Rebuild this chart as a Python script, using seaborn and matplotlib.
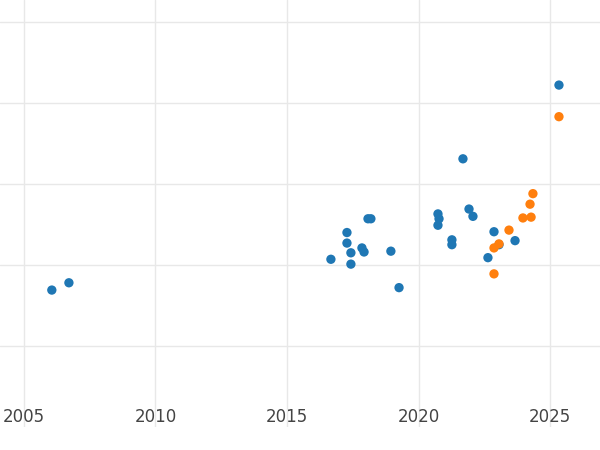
import matplotlib
matplotlib.use("Agg")
import matplotlib.pyplot as plt
import seaborn as sns

blue_x = [2006.06, 2006.71, 2016.67, 2017.28, 2017.28, 2017.43, 2017.43, 2017.85, 2017.93,
          2018.08, 2018.19, 2018.95, 2019.26, 2020.74, 2020.74, 2020.78, 2021.27, 2021.27,
          2021.69, 2021.92, 2022.07, 2022.64, 2022.87, 2023.06, 2023.67, 2025.34]
blue_y = [1.69, 1.78, 2.07, 2.40, 2.27, 2.15, 2.01, 2.21, 2.16,
          2.57, 2.57, 2.17, 1.72, 2.63, 2.49, 2.57, 2.31, 2.25,
          3.31, 2.69, 2.60, 2.09, 2.41, 2.25, 2.30, 4.22]
orange_x = [2022.87, 2022.87, 2023.06, 2023.44, 2023.97, 2024.24, 2024.28, 2024.35, 2025.34]
orange_y = [1.89, 2.21, 2.26, 2.43, 2.58, 2.75, 2.59, 2.88, 3.83]

sns.set_theme(style="white")
fig = plt.figure(figsize=(6, 4.5), dpi=100)
ax = fig.add_axes([0, 23 / 450, 1, 1 - 23 / 450])

sns.scatterplot(x=blue_x, y=blue_y, color="#1f77b4", s=45, edgecolor="none", ax=ax, zorder=3)
sns.scatterplot(x=orange_x, y=orange_y, color="#ff7f0e", s=45, edgecolor="none", ax=ax, zorder=3)

ax.set_xlim(2004.09, 2026.9)
ax.set_ylim(0, 5.27)
ax.set_xticks([2005, 2010, 2015, 2020, 2025])
ax.set_yticks([1, 2, 3, 4, 5])
ax.set_yticklabels([])
ax.grid(True, color="#e8e8e8", linewidth=1)
ax.set_axisbelow(True)
for s in ax.spines.values():
    s.set_visible(False)
ax.tick_params(axis="x", labelsize=12, colors="#444444", pad=-14, length=0)
ax.tick_params(axis="y", length=0)

fig.savefig("out.png", dpi=100)
